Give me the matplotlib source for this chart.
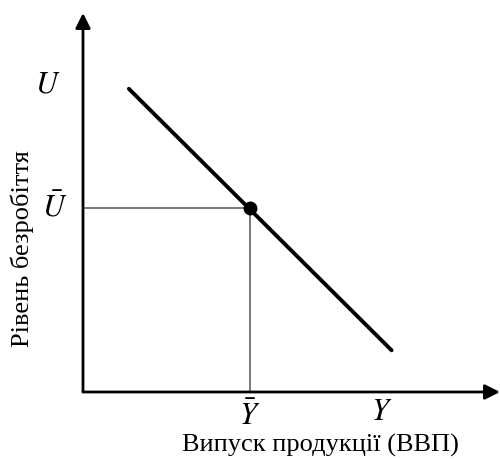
import matplotlib
matplotlib.use("Agg")
import matplotlib.pyplot as plt

plt.rcParams['font.family'] = ['Liberation Serif', 'DejaVu Serif']
plt.rcParams['mathtext.fontset'] = 'stix'

# Okun's law style schematic: unemployment vs output
curve_x = [1.1, 7.4]
curve_y = [8.0, 1.1]
eq_x = 4.0
eq_y = 4.85

x_label = 'Випуск продукції (ВВП)'
y_label = 'Рівень безробіття'

fig = plt.figure(figsize=(5.0, 4.59), dpi=100)
ax = fig.add_axes([0.166, 0.146, 0.834, 0.8257])
ax.set_xlim(0, 10)
ax.set_ylim(0, 10)
ax.axis('off')

# axes with arrows
ax.annotate('', xy=(1, 0), xytext=(0, 0), xycoords='axes fraction',
            arrowprops=dict(arrowstyle='-|>,head_length=0.9,head_width=0.45',
                            lw=2, color='black', shrinkA=0, shrinkB=0))
ax.annotate('', xy=(0, 1), xytext=(0, 0), xycoords='axes fraction',
            arrowprops=dict(arrowstyle='-|>,head_length=0.9,head_width=0.45',
                            lw=2, color='black', shrinkA=0, shrinkB=0))

# guide lines to equilibrium
ax.plot([0, eq_x], [eq_y, eq_y], color='#555555', lw=1.1)
ax.plot([eq_x, eq_x], [0, eq_y], color='#555555', lw=1.1)

ax.plot(curve_x, curve_y, color='black', lw=2.8, solid_capstyle='round')
ax.plot([eq_x], [eq_y], 'o', color='black', markersize=9)

ax.text(-0.84, 8.1, '$U$', fontsize=22, ha='center', va='center', clip_on=False)
ax.text(-0.67, eq_y, r'$\bar{U}$', fontsize=22, ha='center', va='center', clip_on=False)
ax.text(eq_x, -0.65, r'$\bar{Y}$', fontsize=22, ha='center', va='center', clip_on=False)
ax.text(7.17, -0.55, '$Y$', fontsize=22, ha='center', va='center', clip_on=False)

fig.text(320 / 500, 1 - 445 / 459, x_label, fontsize=19, ha='center', va='center')
fig.text(22 / 500, 1 - 249 / 459, y_label, fontsize=19, ha='center', va='center',
         rotation=90)

fig.savefig('out.png', dpi=100)
